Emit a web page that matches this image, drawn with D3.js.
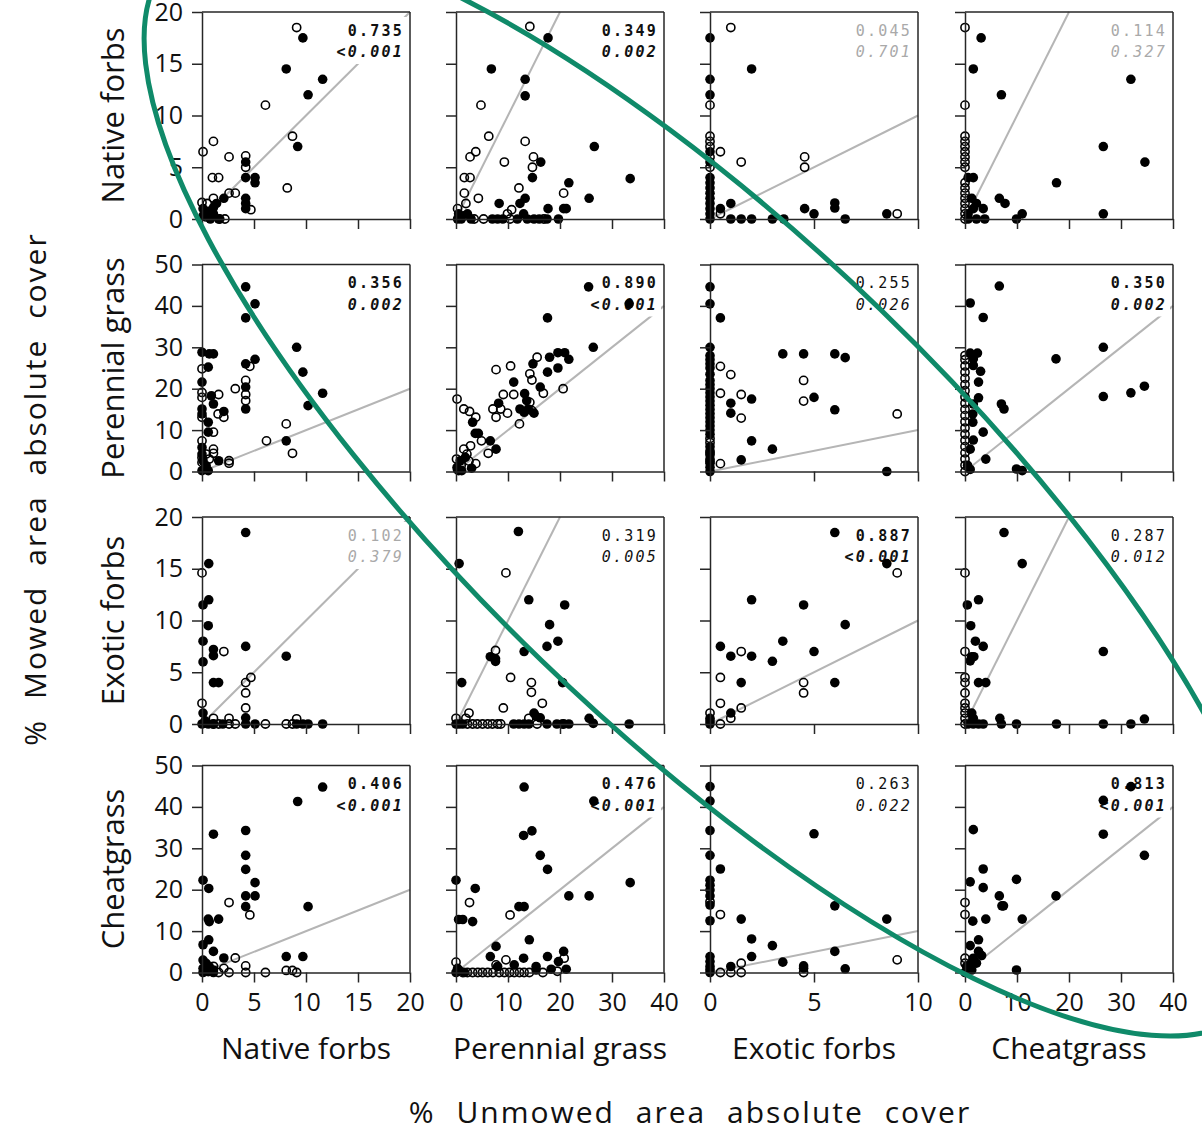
<!DOCTYPE html>
<html><head><meta charset="utf-8">
<script src="https://cdn.jsdelivr.net/npm/d3@7"></script>
<style>body{margin:0;background:#fff}</style>
</head><body>
<svg id="c" width="1202" height="1129"></svg>
<script>
// ---------- data ----------
const rowVars = ["Native forbs","Perennial grass","Exotic forbs","Cheatgrass"];
const colVars = ["Native forbs","Perennial grass","Exotic forbs","Cheatgrass"];
const rowMax = [20,50,20,50];
const colMax = [20,40,10,40];
const rowTicks = [[0,5,10,15,20],[0,10,20,30,40,50],[0,5,10,15,20],[0,10,20,30,40,50]];
const colTicks = [[0,5,10,15,20],[0,10,20,30,40],[0,5,10],[0,10,20,30,40]];
const rValues = [["0.735","0.349","0.045","0.114"],["0.356","0.890","0.255","0.350"],["0.102","0.319","0.887","0.287"],["0.406","0.476","0.263","0.813"]];
const pValues = [["<0.001","0.002","0.701","0.327"],["0.002","<0.001","0.026","0.002"],["0.379","0.005","<0.001","0.012"],["<0.001","<0.001","0.022","<0.001"]];
const sigLevel = [[2,2,0,0],[2,2,1,2],[0,1,2,1],[2,2,1,2]];
const yTitle = "% Mowed area absolute cover";
const xTitle = "% Unmowed area absolute cover";

// points: [unmowed (x), mowed (y), filled]
const nfNf = [[9.1,18.5,0],[9.7,17.5,1],[8.1,14.5,1],[11.6,13.5,1],[10.2,12.0,1],[6.1,11.0,0],[8.7,8.0,0],[9.2,7.0,1],[0.1,6.5,0],[1.1,7.5,0],[2.6,6.0,0],[4.2,6.1,0],[4.2,5.5,1],[4.2,5.0,0],[4.2,4.0,1],[5.1,4.0,1],[5.1,3.5,1],[1.0,4.0,0],[1.6,4.0,0],[8.2,3.0,0],[2.6,2.5,0],[3.2,2.5,0],[2.1,2.0,1],[1.1,2.0,0],[4.2,2.0,1],[4.2,1.5,1],[4.2,1.0,1],[4.7,0.9,0],[0.0,1.6,0],[0.5,1.5,0],[0.1,1.0,1],[0.1,0.3,1],[0.5,0.7,1],[0.8,0.0,1],[1.1,1.1,1],[1.1,0.5,1],[0.4,0.2,0],[1.6,0.0,1],[1.7,0.0,0],[2.2,0.0,0],[1.4,1.5,1]];
const nfPg = [[14.2,18.6,0],[17.7,17.5,1],[6.8,14.5,1],[13.3,13.5,1],[13.3,11.9,1],[4.8,11.0,0],[6.3,8.0,0],[13.3,7.5,0],[2.7,6.0,0],[3.8,6.5,0],[26.6,7.0,1],[33.5,3.9,1],[9.3,5.5,0],[14.9,6.0,0],[14.7,5.0,0],[16.3,5.5,1],[14.7,4.0,1],[1.6,4.0,0],[2.7,4.0,0],[1.6,2.5,0],[4.3,2.0,0],[12.1,3.0,0],[13.3,2.0,1],[12.3,1.5,1],[21.7,3.5,1],[20.7,2.5,0],[25.6,2.0,1],[8.3,1.5,1],[10.7,0.9,0],[17.7,1.0,1],[20.7,1.0,1],[21.2,1.0,1],[9.9,0.5,0],[1.9,1.5,0],[0.3,1.0,0],[0.5,0.5,1],[1.0,0.0,1],[2.2,0.5,1],[0.3,0.0,1],[2.9,0.0,1],[5.3,0.0,0],[7.0,0.0,1],[8.0,0.0,1],[9.0,0.0,1],[11.8,0.0,1],[13.7,0.0,1],[15.0,0.0,1],[16.0,0.0,1],[17.5,0.0,1],[19.7,0.0,1],[3.5,0.0,0],[1.5,0.3,0],[10.4,0.0,0],[16.9,0.0,0],[13.0,0.5,1]];
const nfEf = [[1.0,18.5,0],[0,17.5,1],[2.0,14.5,1],[0,13.5,1],[0,12.0,1],[0,11.0,0],[0,8.0,0],[0,7.5,0],[0,7.0,0],[0,6.5,1],[0,6.0,0],[0.5,6.5,0],[1.5,5.5,0],[4.55,6.0,0],[4.55,5.0,0],[0,5.0,0],[0,5.5,1],[0,4.0,1],[0,3.5,1],[0,3.0,1],[0,2.5,1],[0,2.0,1],[0,1.5,1],[0,1.0,1],[1.0,1.5,1],[0.5,1.0,1],[0.5,0.5,0],[4.55,1.0,1],[5.0,0.5,1],[6.0,1.55,1],[6.0,1.06,1],[0,0,1],[1.0,0,1],[1.5,0,1],[2.0,0,1],[3.0,0,1],[3.55,0,1],[6.5,0,1],[8.5,0.5,1],[9.0,0.5,0],[0,0.5,1]];
const nfCg = [[0,18.5,0],[3.1,17.5,1],[1.6,14.5,1],[7.0,12.0,1],[31.9,13.5,1],[0,11.0,0],[0,8.0,0],[0,7.5,0],[0,7.0,0],[0,6.5,0],[0,6.0,0],[0,5.5,0],[0,5.0,0],[0,3.5,0],[0,3.0,0],[0,2.5,0],[0,2.0,0],[0,1.5,0],[0,1.0,0],[0,0.5,0],[26.6,7.0,1],[34.6,5.5,1],[17.6,3.5,1],[0.6,4.0,1],[1.6,4.0,1],[6.6,2.0,1],[7.7,1.5,1],[26.6,0.5,1],[9.9,0,1],[11.0,0.5,1],[0.6,0.5,1],[1.6,1.0,1],[2.2,1.5,1],[3.5,1.0,1],[1.3,2.0,1],[0.6,0,1],[2.2,0,1],[3.8,0,1],[0,0,0]];

const pgNf = [[4.2,44.6,1],[5.1,40.5,1],[4.2,37.1,1],[9.1,30.0,1],[0,28.8,1],[0.7,28.4,1],[1.1,28.4,1],[0.6,25.2,1],[4.2,26.0,1],[5.1,27.1,1],[4.6,25.4,0],[9.7,24.0,1],[0,24.8,0],[0,21.6,1],[3.2,20.0,0],[4.2,22.0,0],[4.2,20.4,1],[4.2,18.6,0],[4.2,17.1,0],[4.2,15.1,1],[11.6,18.9,1],[10.2,15.9,1],[0,19.1,0],[0,17.9,0],[0.9,18.3,1],[1.1,16.3,1],[1.6,18.6,0],[2.1,14.5,1],[1.55,13.9,0],[2.1,13.1,0],[0,15.1,1],[0,13.9,1],[0,13.1,0],[0.6,11.9,1],[0.6,9.5,1],[1.1,9.5,0],[0,7.4,0],[0,5.8,1],[1.1,5.4,0],[1.1,4.4,0],[8.1,11.5,0],[8.1,7.4,1],[8.7,4.4,0],[6.2,7.4,0],[1.6,2.6,1],[2.6,2.6,0],[2.6,2.0,0],[0,0.2,1],[0.4,1.4,1],[0.6,0.2,1],[0,3.4,0],[0.4,4.2,0],[0.1,2.6,1],[0.7,3.0,0],[0,4.2,1],[0,2.2,0],[0.3,0.8,0]];
const pgPg = [[25.5,44.6,1],[33.3,40.5,1],[17.6,37.1,1],[26.4,30.0,1],[18.0,27.6,1],[19.6,28.7,1],[20.9,28.7,1],[21.7,27.1,1],[19.6,25.0,1],[17.6,24.0,1],[14.8,26.0,1],[15.6,27.6,0],[14.2,23.6,0],[14.6,22.1,0],[16.8,18.9,0],[20.6,20.0,0],[7.7,24.6,0],[10.5,25.5,0],[11.1,21.6,1],[16.2,20.4,1],[9.1,18.6,0],[11.1,18.6,0],[13.2,18.8,1],[13.6,17.1,1],[12.3,15.1,1],[13.9,15.1,1],[15.0,14.1,1],[13.1,14.3,1],[14.2,16.7,0],[14.6,14.7,0],[8.2,16.5,1],[7.1,15.1,0],[8.6,15.1,0],[7.7,13.1,0],[9.9,14.1,0],[12.2,11.5,0],[3.2,11.9,1],[3.7,9.2,1],[4.3,9.2,1],[0.2,17.5,0],[1.5,15.1,0],[2.6,14.5,0],[3.8,13.1,0],[4.9,7.4,0],[6.6,7.4,1],[7.7,5.4,1],[6.2,4.4,0],[1.5,5.4,0],[2.8,6.2,0],[2.1,4.2,0],[3.8,1.9,0],[0.2,1.0,1],[0.8,2.6,1],[1.8,3.4,1],[0.5,0.2,1],[1.1,0.2,1],[0.1,3.0,0],[2.5,2.5,0],[1.0,1.5,0],[3.0,0.8,1],[0.3,0.5,0]];
const pgEf = [[0,44.6,1],[0,40.5,1],[0.5,37.1,1],[0,30,1],[0,28,1],[0,27,1],[0,26,1],[0,25,1],[0,23.5,1],[0,22,1],[0,21,1],[0,20,1],[0,19,1],[0,18,1],[0,17,1],[0,16,1],[0,15,1],[0,14,1],[0,13,1],[0,12,1],[0,11,1],[0,10,1],[0,9,1],[0,8,0],[0,7,0],[0,6,1],[0,5,1],[0,4.5,0],[0,4,1],[0,3,1],[0,2.5,0],[0,2,1],[0,1,1],[0,0,1],[3.5,28.4,1],[4.5,28.4,1],[6.0,28.4,1],[6.5,27.5,1],[0.5,25.4,0],[1.0,23.4,0],[0.5,18.9,0],[1.5,18.6,0],[1.0,16.5,1],[1.0,14.1,1],[2.0,17.5,1],[1.5,12.9,0],[4.5,22.0,0],[4.5,17.0,0],[5.0,17.9,1],[6.0,14.9,1],[9.0,13.9,0],[2.0,7.4,1],[3.0,5.4,1],[1.5,2.8,1],[0.5,1.9,0],[8.5,0,1]];
const pgCg = [[0,28,0],[0,27,0],[0,25.5,0],[0,24,0],[0,22.5,0],[0,21,0],[0,19.5,0],[0,18,0],[0,16.5,0],[0,15,0],[0,13.5,0],[0,12,0],[0,10.5,0],[0,9,0],[0,7.5,0],[0,6,0],[0,4.5,0],[0,3,0],[0,1.5,0],[0,0,0],[6.6,44.8,1],[1.0,40.7,1],[3.5,37.2,1],[1.0,28.6,1],[2.4,28.6,1],[1.6,27.2,1],[1.6,25.6,1],[3.0,24.2,1],[2.6,21.6,1],[2.6,17.8,1],[1.6,16.3,1],[1.5,13.9,1],[1.5,11.9,1],[7.0,16.3,1],[7.5,15.1,1],[17.5,27.2,1],[26.6,30.0,1],[26.6,18.1,1],[31.9,19.0,1],[34.5,20.6,1],[3.5,9.5,1],[1.6,7.6,1],[1.0,5.4,1],[4.0,3.0,1],[9.9,0.6,1],[11.0,0.2,1],[0.5,1.5,1],[1.0,0.5,1]];

const efNf = [[4.2,18.5,1],[0.65,15.5,1],[0,14.6,0],[0.65,12.0,1],[0.1,11.5,1],[0.6,9.5,1],[0.1,8.0,1],[4.2,7.5,1],[1.1,7.2,1],[1.1,6.6,1],[2.1,7.0,0],[0.1,6.0,1],[8.1,6.55,1],[1.1,4.0,1],[1.6,4.0,1],[4.2,4.0,0],[4.7,4.5,0],[4.2,3.0,0],[0,2.0,0],[4.2,1.55,0],[0.1,1.06,1],[4.2,0.6,1],[0,0,1],[0.6,0,1],[1.1,0,1],[2.0,0,1],[4.2,0,1],[5.1,0,1],[9.1,0,1],[9.7,0,1],[10.2,0,1],[11.6,0,1],[1.1,0,0],[1.6,0,0],[2.6,0,0],[3.2,0,0],[6.1,0,0],[8.1,0,0],[8.7,0,0],[9.1,0.5,0],[2.6,0.55,0],[1.1,0.55,0],[0.3,0.3,1]];
const efPg = [[12.0,18.6,1],[0.6,15.5,1],[9.6,14.6,0],[14.0,12.0,1],[20.9,11.5,1],[18.0,9.6,1],[19.6,8.0,1],[17.5,7.5,1],[13.1,7.0,1],[6.6,6.5,1],[7.6,6.3,1],[7.6,6.05,1],[7.6,7.1,0],[10.5,4.5,0],[14.5,4.0,0],[14.5,3.06,0],[20.5,4.0,1],[1.1,4.0,1],[16.6,2.0,0],[9.1,1.55,0],[15.0,1.06,1],[16.2,0.6,1],[15.4,0.74,1],[2.5,1.06,0],[14.0,0.55,0],[1.9,0.55,0],[25.6,0.55,1],[26.4,0.06,1],[33.3,0,1],[0,0,1],[0.6,0,1],[1.3,0,1],[11.1,0,1],[12.1,0,1],[13.1,0,1],[14.0,0,1],[17.5,0,1],[19.4,0,1],[20.4,0,1],[21.7,0,1],[0,0.55,0],[3.2,0,0],[4.1,0,0],[5.1,0,0],[6.1,0,0],[7.0,0,0],[8.0,0,0],[8.6,0,0],[15.6,0,0],[20.7,0,0],[2.2,0,0]];
const efEf = [[6.0,18.5,1],[8.5,15.5,1],[9.0,14.6,0],[2.0,12.0,1],[4.5,11.5,1],[6.5,9.6,1],[3.5,8.0,1],[0.5,7.5,1],[5.0,7.0,1],[1.5,7.0,0],[1.0,6.55,1],[2.0,6.55,1],[3.0,6.06,1],[0.5,4.5,0],[1.5,4.0,1],[4.5,4.0,0],[4.5,3.0,0],[6.0,4.0,1],[0.5,2.0,0],[1.5,1.55,0],[1.0,1.06,1],[0,1.06,0],[1.0,0.55,0],[0.5,0,0],[0,0.55,1],[0,0,1],[0,0.3,1]];
const efCg = [[7.5,18.5,1],[11.0,15.5,1],[0,14.6,0],[2.6,12.0,1],[0.45,11.5,1],[1.1,9.5,1],[2.0,8.0,1],[3.5,7.5,1],[0,7.0,0],[1.3,6.5,1],[1.7,6.5,1],[1.0,6.1,1],[26.6,7.0,1],[2.6,4.0,1],[4.0,4.0,1],[0,4.5,0],[0,4.0,0],[0,3.0,0],[0,2.0,0],[0,1.55,0],[0,1.06,0],[0,0.55,0],[0,0,0],[1.3,1.06,1],[1.6,0.55,1],[0.6,0,1],[1.6,0,1],[2.6,0,1],[3.5,0,1],[6.7,0.55,1],[7.0,0,1],[9.9,0,1],[17.6,0,1],[26.6,0,1],[31.9,0,1],[34.5,0.48,1]];

const cgNf = [[11.6,44.8,1],[9.2,41.3,1],[1.1,33.4,1],[4.2,34.3,1],[4.2,28.3,1],[4.2,24.9,1],[5.1,21.7,1],[5.1,18.5,1],[4.2,18.5,1],[4.2,15.9,1],[4.6,13.9,0],[2.6,16.9,0],[0.1,22.3,1],[0.65,20.3,1],[0.6,12.9,1],[0.7,12.3,1],[1.6,12.9,1],[10.2,15.9,1],[0.1,6.7,1],[0.65,7.9,1],[1.1,5.1,1],[2.1,3.5,1],[3.2,3.5,0],[8.1,3.85,1],[9.7,3.85,1],[4.2,1.6,0],[1.6,0,0],[2.6,0,0],[4.2,0,0],[6.1,0,0],[8.1,0.5,0],[8.7,0.5,0],[9.1,0,0],[0.1,3.0,1],[0.4,2.2,1],[0.7,1.4,1],[0.1,1.0,1],[0.6,0.2,1],[1.1,0.6,1],[0.1,0,1],[1.1,1.5,0],[2.1,1.0,0],[0.4,0.6,0],[1.1,0,1]];
const cgPg = [[13.1,44.8,1],[26.5,41.4,1],[13.0,33.1,1],[14.6,34.2,1],[16.2,28.3,1],[17.6,24.9,1],[0,22.3,1],[3.7,20.3,1],[2.6,16.9,0],[21.7,18.5,1],[25.6,18.5,1],[33.5,21.7,1],[12.1,15.9,1],[13.1,15.9,1],[10.4,13.9,0],[0.5,12.8,1],[1.3,12.8,1],[3.2,12.3,1],[14.1,7.9,1],[7.7,6.3,1],[6.6,3.85,1],[13.0,3.45,1],[17.6,3.85,1],[20.7,5.1,1],[19.7,2.65,1],[11.2,1.85,1],[8.0,1.45,1],[15.4,1.45,1],[21.2,0.8,1],[18.3,0.8,1],[9.6,3.05,0],[20.8,3.45,0],[0,2.5,0],[7.7,1.85,0],[0,0,1],[0.6,0.5,1],[1.6,0,1],[1.3,0,0],[2.2,0,0],[3.2,0,0],[4.2,0,0],[5.1,0,0],[6.1,0,0],[7.1,0,0],[8.3,0,0],[9.3,0,0],[10.3,0,0],[11.2,0,0],[12.2,0,0],[13.1,0,0],[14.1,0,0],[16.7,0,0],[15.4,0.6,1],[19.5,0.3,0],[0.3,1.0,1]];
const cgEf = [[0,44.9,1],[0,41.4,1],[0,34.3,1],[0,28.3,1],[0.5,25.0,1],[0,22.3,1],[0,21.1,1],[0,19.9,1],[0,18.5,1],[0,16.3,1],[0,12.5,1],[0,17.1,0],[0.5,14.0,0],[5.0,33.5,1],[6.0,16.1,1],[1.5,12.9,1],[8.5,12.9,1],[2.0,8.1,1],[2.0,3.85,1],[3.0,6.5,1],[3.5,2.5,1],[6.0,5.1,1],[4.5,1.6,1],[4.5,1.0,1],[4.5,0,0],[6.5,0.9,1],[9.0,3.05,0],[1.0,1.45,1],[1.5,2.25,0],[0.5,0,0],[1.0,0,0],[1.5,0,0],[0,3.85,1],[0,2.65,1],[0,1.45,1],[0,0,1],[0,0.7,1]];
const cgCg = [[31.9,44.9,1],[26.6,41.6,1],[1.6,34.5,1],[26.6,33.4,1],[34.5,28.3,1],[3.5,25.0,1],[1.0,21.9,1],[9.9,22.5,1],[3.5,20.5,1],[6.6,18.5,1],[7.4,16.1,1],[7.1,16.1,1],[17.5,18.5,1],[1.5,12.4,1],[4.0,12.9,1],[11.0,12.9,1],[0,16.9,0],[0,14.0,0],[2.6,7.9,1],[1.0,6.5,1],[2.6,5.1,1],[3.2,4.1,1],[1.6,3.45,1],[2.2,2.25,1],[1.0,1.85,1],[0.3,1.45,1],[1.3,0.6,1],[0,0,1],[0,3.45,0],[0,2.25,0],[9.9,0.6,1]];

const panelPoints = [[nfNf,nfPg,nfEf,nfCg],[pgNf,pgPg,pgEf,pgCg],[efNf,efPg,efEf,efCg],[cgNf,cgPg,cgEf,cgCg]];

// ---------- layout ----------
const colLeft = [202, 456, 710, 965];
const rowTop = [12, 264.5, 517, 765.5];
const PW = 208, PH = 207;
const sansFont = "'Open Sans', sans-serif";
const monoFont = "'DejaVu Sans Mono', monospace";
const frameColor = "#262626";

const svg = d3.select("#c");
svg.append("rect").attr("width",1202).attr("height",1129).attr("fill","#fff");

rowVars.forEach((rv, i) => {
  colVars.forEach((cv, j) => {
    const x = d3.scaleLinear().domain([0, colMax[j]]).range([colLeft[j], colLeft[j] + PW]);
    const y = d3.scaleLinear().domain([0, rowMax[i]]).range([rowTop[i] + PH, rowTop[i]]);
    const g = svg.append("g");

    // 1:1 reference line
    const m = Math.min(colMax[j], rowMax[i]);
    g.append("line")
      .attr("x1", x(0)).attr("y1", y(0)).attr("x2", x(m)).attr("y2", y(m))
      .attr("stroke", "#b5b5b5").attr("stroke-width", 2);

    // stats text with white backing
    const sig = sigLevel[i][j];
    const col = sig === 0 ? "#a9a9a9" : "#111";
    const wt = sig === 2 ? "bold" : "normal";
    const tg = g.append("g");
    const bg = tg.append("rect").attr("fill", "#fff");
    const tx = x.range()[1] - 6;
    const t1 = tg.append("text")
      .attr("x", tx).attr("y", rowTop[i] + 23.5)
      .attr("text-anchor", "end")
      .style("font-family", monoFont).style("font-size", "15px")
      .style("letter-spacing", "2.2px").style("font-weight", wt)
      .attr("fill", col).text(rValues[i][j]);
    const pv = pValues[i][j];
    const t2 = tg.append("text")
      .attr("x", tx).attr("y", rowTop[i] + 45)
      .attr("text-anchor", "end")
      .style("font-family", monoFont).style("font-size", "15px")
      .style("letter-spacing", "2.2px").style("font-weight", wt)
      .attr("fill", col);
    if (pv.startsWith("<")) {
      t2.append("tspan").text("<");
      t2.append("tspan").style("font-style", "italic").text(pv.slice(1));
    } else {
      t2.append("tspan").style("font-style", "italic").text(pv);
    }
    const b1 = t1.node().getBBox(), b2 = t2.node().getBBox();
    const bx = Math.min(b1.x, b2.x) - 2;
    bg.attr("x", bx).attr("y", rowTop[i] + 5)
      .attr("width", x.range()[1] - 3 - bx).attr("height", 47);

    // points
    g.append("g").selectAll("circle").data(panelPoints[i][j]).join("circle")
      .attr("cx", d => x(d[0])).attr("cy", d => y(d[1]))
      .attr("r", d => d[2] ? 4.8 : 4.1)
      .attr("fill", d => d[2] ? "#000" : "none")
      .attr("stroke", "#000")
      .attr("stroke-width", d => d[2] ? 0 : 1.6);

    // frame (top and right)
    g.append("line").attr("x1", x(0)).attr("x2", x.range()[1]).attr("y1", y.range()[1]).attr("y2", y.range()[1])
      .attr("stroke", frameColor).attr("stroke-width", 1.5);
    g.append("line").attr("x1", x.range()[1]).attr("x2", x.range()[1]).attr("y1", y.range()[1]).attr("y2", y(0))
      .attr("stroke", frameColor).attr("stroke-width", 1.5);

    // axes
    const xa = g.append("g").attr("transform", `translate(0,${y(0)})`)
      .call(d3.axisBottom(x).tickValues(colTicks[j]).tickSize(10).tickSizeOuter(0).tickPadding(11)
        .tickFormat(i === 3 ? d3.format("d") : () => ""));
    const ya = g.append("g").attr("transform", `translate(${x(0)},0)`)
      .call(d3.axisLeft(y).tickValues(rowTicks[i]).tickSize(10).tickSizeOuter(0).tickPadding(9)
        .tickFormat(j === 0 ? d3.format("d") : () => ""));
    [xa, ya].forEach(a => {
      a.selectAll("path.domain").attr("stroke", frameColor).attr("stroke-width", 1.5);
      a.selectAll(".tick line").attr("stroke", frameColor).attr("stroke-width", 1.5);
      a.selectAll(".tick text").style("font-family", sansFont).style("font-size", "25px").attr("fill", "#111");
    });
  });
});

// row labels
rowVars.forEach((rv, i) => {
  svg.append("text")
    .attr("transform", `translate(124,${rowTop[i] + PH / 2}) rotate(-90)`)
    .attr("text-anchor", "middle")
    .style("font-family", sansFont).style("font-size", "31px").attr("fill", "#111")
    .text(rv);
});
// column labels
colVars.forEach((cv, j) => {
  svg.append("text")
    .attr("x", colLeft[j] + PW / 2).attr("y", 1059)
    .attr("text-anchor", "middle")
    .style("font-family", sansFont).style("font-size", "30px").attr("fill", "#111")
    .text(cv);
});
// axis titles
svg.append("text")
  .attr("transform", "translate(46,489) rotate(-90)")
  .attr("text-anchor", "middle")
  .style("font-family", sansFont).style("font-size", "30px")
  .style("word-spacing", "10px").style("letter-spacing", "2px")
  .attr("fill", "#111").text(yTitle);
svg.append("text")
  .attr("x", 690).attr("y", 1123)
  .attr("text-anchor", "middle")
  .style("font-family", sansFont).style("font-size", "30px")
  .style("word-spacing", "11px").style("letter-spacing", "2px")
  .attr("fill", "#111").text(xTitle);

// green annotation ellipse
const ring = {cx: 711, cy: 485, rx: 752, ry: 244, angle: 44};
svg.append("ellipse")
  .attr("cx", ring.cx).attr("cy", ring.cy).attr("rx", ring.rx).attr("ry", ring.ry)
  .attr("transform", `rotate(${ring.angle} ${ring.cx} ${ring.cy})`)
  .attr("fill", "none").attr("stroke", "#0f8a69").attr("stroke-width", 5);
</script>
</body></html>
